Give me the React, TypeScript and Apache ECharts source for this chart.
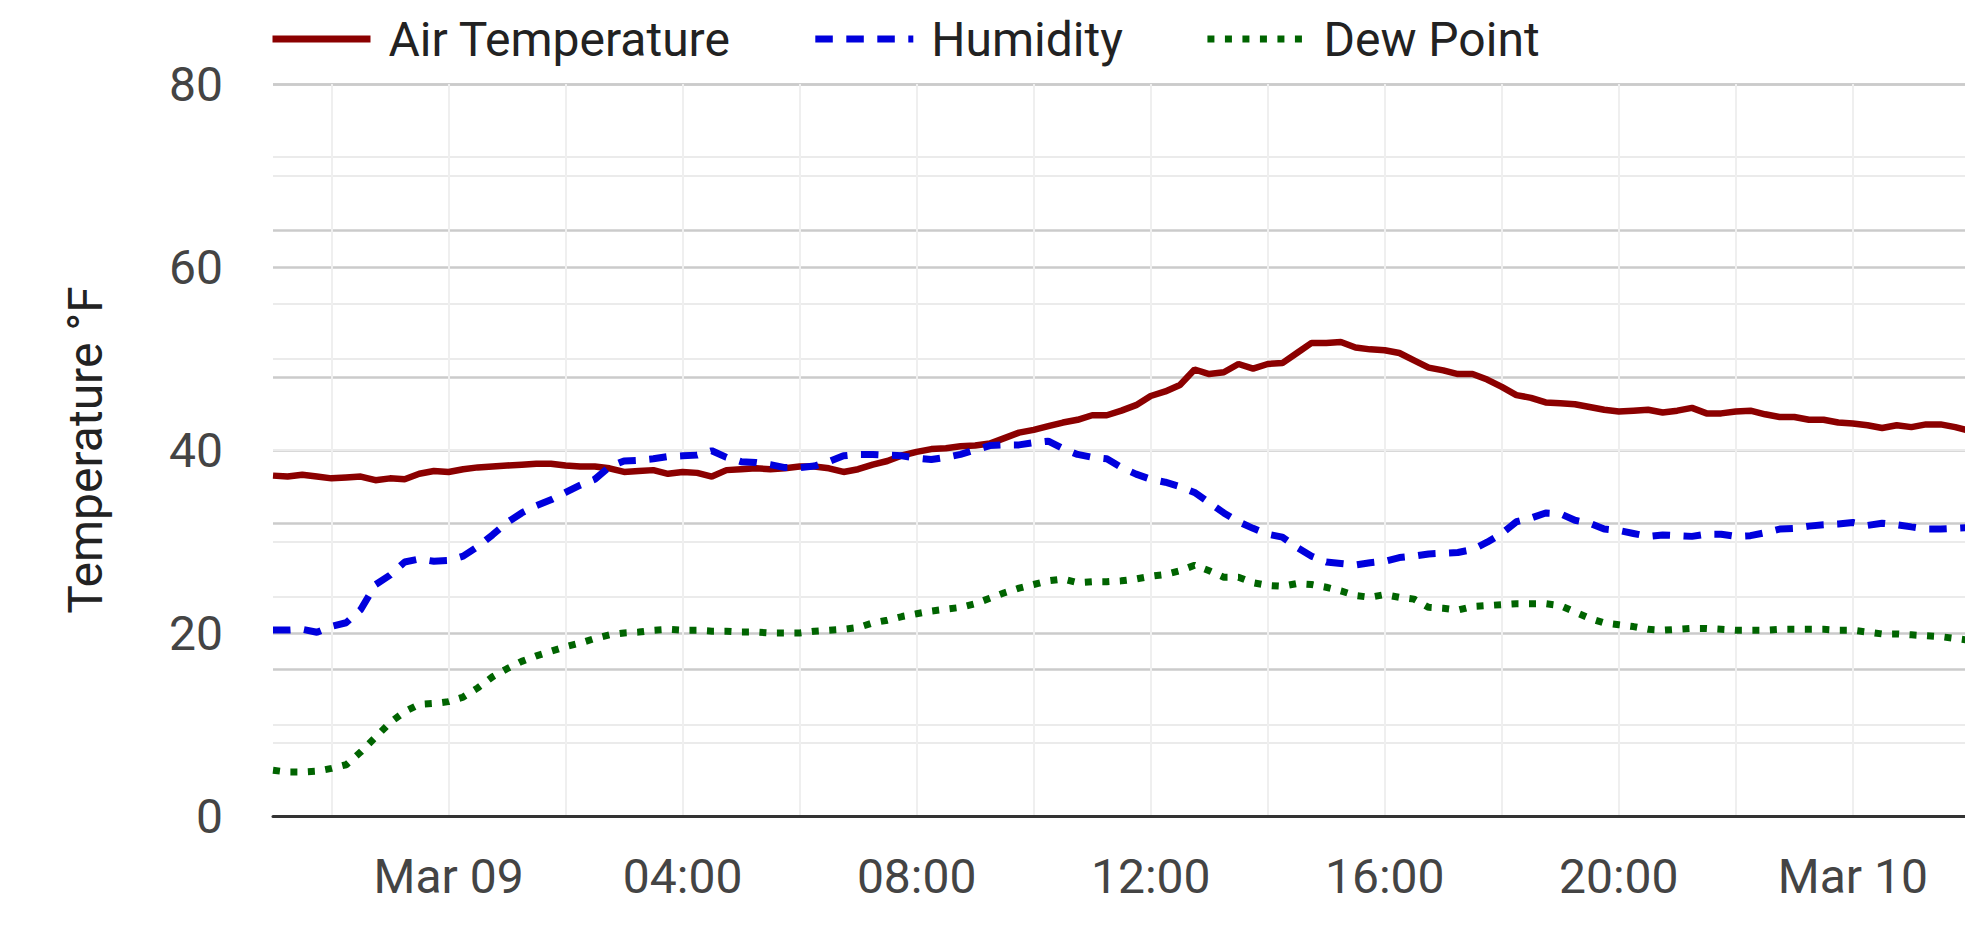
import React, { useEffect, useRef } from 'react';
import * as echarts from 'echarts';

// ---- time sampling (15-minute readings from Mar 08 21:00 UTC) ----
const START_TIME = '2024-03-08T21:00:00Z';
const STEP_MINUTES = 15;
const X_MIN = '2024-03-08T21:00:00Z';
const X_MAX = '2024-03-10T01:55:00Z';

// vertical grid lines (every 2 h) and labelled ticks (every 4 h)
const GRID_TIMES = [
  '2024-03-08T22:00:00Z', '2024-03-09T00:00:00Z', '2024-03-09T02:00:00Z', '2024-03-09T04:00:00Z',
  '2024-03-09T06:00:00Z', '2024-03-09T08:00:00Z', '2024-03-09T10:00:00Z', '2024-03-09T12:00:00Z',
  '2024-03-09T14:00:00Z', '2024-03-09T16:00:00Z', '2024-03-09T18:00:00Z', '2024-03-09T20:00:00Z',
  '2024-03-09T22:00:00Z', '2024-03-10T00:00:00Z',
];
const LABEL_TIMES = [
  '2024-03-09T00:00:00Z', '2024-03-09T04:00:00Z', '2024-03-09T08:00:00Z', '2024-03-09T12:00:00Z',
  '2024-03-09T16:00:00Z', '2024-03-09T20:00:00Z', '2024-03-10T00:00:00Z',
];
const MONTHS = ['Jan', 'Feb', 'Mar', 'Apr', 'May', 'Jun', 'Jul', 'Aug', 'Sep', 'Oct', 'Nov', 'Dec'];

const SERIES_NAMES = ['Air Temperature', 'Humidity', 'Dew Point'];

// Air temperature, °F
const airTemperature = [
  37.2, 37.1, 37.3, 37.1, 36.9, 37.0, 37.1, 36.7,
  36.9, 36.8, 37.4, 37.7, 37.6, 37.9, 38.1, 38.2,
  38.3, 38.4, 38.5, 38.5, 38.3, 38.2, 38.2, 38.0,
  37.6, 37.7, 37.8, 37.4, 37.6, 37.5, 37.1, 37.8,
  37.9, 38.0, 37.9, 38.0, 38.2, 38.2, 38.0, 37.6,
  37.9, 38.4, 38.8, 39.4, 39.8, 40.1, 40.2, 40.4,
  40.5, 40.7, 41.3, 41.9, 42.2, 42.6, 43.0, 43.3,
  43.8, 43.8, 44.3, 44.9, 45.9, 46.4, 47.1, 48.8,
  48.3, 48.5, 49.4, 48.9, 49.4, 49.5, 50.6, 51.7,
  51.7, 51.8, 51.2, 51.0, 50.9, 50.6, 49.8, 49.0,
  48.7, 48.3, 48.3, 47.7, 46.9, 46.0, 45.7, 45.2,
  45.1, 45.0, 44.7, 44.4, 44.2, 44.3, 44.4, 44.1,
  44.3, 44.6, 44.0, 44.0, 44.2, 44.3, 43.9, 43.6,
  43.6, 43.3, 43.3, 43.0, 42.9, 42.7, 42.4, 42.7,
  42.5, 42.8, 42.8, 42.5, 42.1,
];

// Relative humidity, %
const humidity = [
  25.4, 25.4, 25.5, 25.1, 25.9, 26.4, 28.2, 31.6,
  32.9, 34.7, 35.1, 34.8, 34.9, 35.5, 36.8, 38.4,
  40.1, 41.4, 42.4, 43.2, 44.2, 45.2, 46.0, 47.7,
  48.5, 48.6, 48.8, 49.1, 49.2, 49.3, 49.9, 49.0,
  48.4, 48.3, 48.0, 47.6, 47.6, 47.8, 48.4, 49.2,
  49.4, 49.4, 49.3, 49.2, 48.9, 48.7, 49.0, 49.4,
  50.0, 50.6, 50.7, 50.7, 51.0, 51.2, 50.2, 49.4,
  49.0, 48.8, 47.6, 46.7, 46.0, 45.6, 45.0, 44.2,
  42.8, 41.4, 40.2, 39.3, 38.5, 38.1, 36.7, 35.5,
  34.7, 34.5, 34.3, 34.6, 34.8, 35.3, 35.5, 35.8,
  35.9, 36.0, 36.4, 37.4, 38.6, 40.2, 40.7, 41.4,
  41.3, 40.4, 40.0, 39.2, 39.0, 38.6, 38.2, 38.4,
  38.3, 38.2, 38.5, 38.5, 38.2, 38.3, 38.7, 39.2,
  39.3, 39.6, 39.8, 39.9, 40.1, 39.7, 40.0, 39.8,
  39.5, 39.2, 39.2, 39.3, 39.4,
];

// Dew point, °F
const dewPoint = [
  5.0, 4.8, 4.8, 4.9, 5.2, 5.6, 7.0, 8.6,
  10.2, 11.4, 12.2, 12.3, 12.5, 13.0, 14.0, 15.2,
  16.1, 16.9, 17.5, 18.0, 18.5, 18.9, 19.4, 19.8,
  20.0, 20.1, 20.3, 20.4, 20.3, 20.3, 20.2, 20.2,
  20.1, 20.1, 20.0, 20.0, 20.0, 20.2, 20.3, 20.4,
  20.6, 21.1, 21.4, 21.8, 22.1, 22.4, 22.6, 22.8,
  23.2, 23.8, 24.4, 24.9, 25.3, 25.7, 25.9, 25.5,
  25.6, 25.6, 25.7, 25.9, 26.2, 26.4, 26.8, 27.4,
  26.8, 26.1, 26.1, 25.5, 25.2, 25.1, 25.4, 25.3,
  25.0, 24.6, 24.1, 23.9, 24.2, 23.9, 23.7, 22.8,
  22.7, 22.5, 22.9, 23.0, 23.1, 23.2, 23.2, 23.2,
  23.0, 22.3, 21.6, 21.1, 20.9, 20.7, 20.4, 20.3,
  20.4, 20.5, 20.5, 20.4, 20.3, 20.3, 20.3, 20.4,
  20.4, 20.4, 20.4, 20.3, 20.3, 20.1, 19.9, 19.9,
  19.8, 19.7, 19.6, 19.4, 19.2,
];

const FONT = 'Roboto';

const pad2 = (n: number) => String(n).padStart(2, '0');
const formatTick = (value: number) => {
  const d = new Date(value);
  const h = d.getUTCHours();
  if (h === 0 && d.getUTCMinutes() === 0) {
    return `${MONTHS[d.getUTCMonth()]} ${pad2(d.getUTCDate())}`;
  }
  return `${pad2(h)}:${pad2(d.getUTCMinutes())}`;
};

function buildOption() {
  const t0 = Date.parse(START_TIME);
  const toPairs = (vals: number[]) => vals.map((v, i) => [t0 + i * STEP_MINUTES * 60000, v]);

  const majorGrid = { color: '#cbcbcb', width: 2.5 };
  const minorGrid = { color: '#ebebeb', width: 2 };
  const DASH = [17.5, 13.5];
  const DOT = [7, 10.5];

  return {
    animation: false,
    backgroundColor: '#ffffff',
    textStyle: { fontFamily: FONT },
    legend: {
      data: SERIES_NAMES,
      left: 269,
      top: 15,
      padding: 0,
      itemWidth: 98,
      itemHeight: 48,
      itemGap: 81,
      itemStyle: { opacity: 0 },
      lineStyle: { width: 7 },
      textStyle: {
        fontSize: 48,
        lineHeight: 48,
        color: '#222222',
        fontFamily: FONT,
        padding: [0, 0, 0, 13],
      },
    },
    grid: { left: 273, right: 0, top: 84, bottom: 122, containLabel: false, outerBoundsMode: 'none' },
    xAxis: {
      type: 'value',
      min: Date.parse(X_MIN),
      max: Date.parse(X_MAX),
      axisLine: { show: true, onZero: false, lineStyle: { color: '#333333', width: 3 } },
      axisTick: { show: false, customValues: GRID_TIMES.map((s) => Date.parse(s)) },
      axisLabel: {
        customValues: LABEL_TIMES.map((s) => Date.parse(s)),
        formatter: formatTick,
        fontSize: 48,
        color: '#444444',
        fontFamily: FONT,
        margin: 36,
        hideOverlap: false,
      },
      splitLine: { show: true, lineStyle: { color: '#efefef', width: 2 } },
    },
    yAxis: [
      {
        type: 'value',
        min: 0,
        max: 80,
        interval: 20,
        name: 'Temperature °F',
        nameLocation: 'middle',
        nameGap: 164,
        nameTextStyle: { fontSize: 48, color: '#222222', fontFamily: FONT },
        axisLine: { show: false },
        axisTick: { show: false },
        axisLabel: { fontSize: 48, color: '#444444', fontFamily: FONT, margin: 50 },
        splitLine: { show: true, showMinLine: false, lineStyle: majorGrid },
        minorTick: { show: false, splitNumber: 2 },
        minorSplitLine: { show: true, lineStyle: minorGrid },
      },
      {
        type: 'value',
        min: 0,
        max: 100,
        interval: 20,
        position: 'right',
        axisLine: { show: false },
        axisTick: { show: false },
        axisLabel: { show: false },
        splitLine: { show: true, showMinLine: false, lineStyle: majorGrid },
        minorTick: { show: false, splitNumber: 2 },
        minorSplitLine: { show: true, lineStyle: minorGrid },
      },
    ],
    series: [
      {
        name: SERIES_NAMES[0],
        type: 'line',
        yAxisIndex: 0,
        data: toPairs(airTemperature),
        showSymbol: false,
        symbol: 'none',
        itemStyle: { color: '#8b0000' },
        lineStyle: { color: '#8b0000', width: 6.5 },
      },
      {
        name: SERIES_NAMES[1],
        type: 'line',
        yAxisIndex: 1,
        data: toPairs(humidity),
        showSymbol: false,
        symbol: 'none',
        itemStyle: { color: '#0000dd' },
        lineStyle: { color: '#0000dd', width: 7, type: DASH, cap: 'butt' },
      },
      {
        name: SERIES_NAMES[2],
        type: 'line',
        yAxisIndex: 0,
        data: toPairs(dewPoint),
        showSymbol: false,
        symbol: 'none',
        itemStyle: { color: '#006400' },
        lineStyle: { color: '#006400', width: 7, type: DOT, cap: 'butt' },
      },
    ],
  };
}

export default function App() {
  const ref = useRef<HTMLDivElement>(null);
  useEffect(() => {
    if (!ref.current) return;
    const chart = echarts.init(ref.current, undefined, { renderer: 'svg' });
    chart.setOption(buildOption() as any);
    return () => chart.dispose();
  }, []);
  return (
    <div
      ref={ref}
      style={{ position: 'fixed', left: 0, top: 0, width: 1965, height: 938, background: '#ffffff' }}
    />
  );
}
